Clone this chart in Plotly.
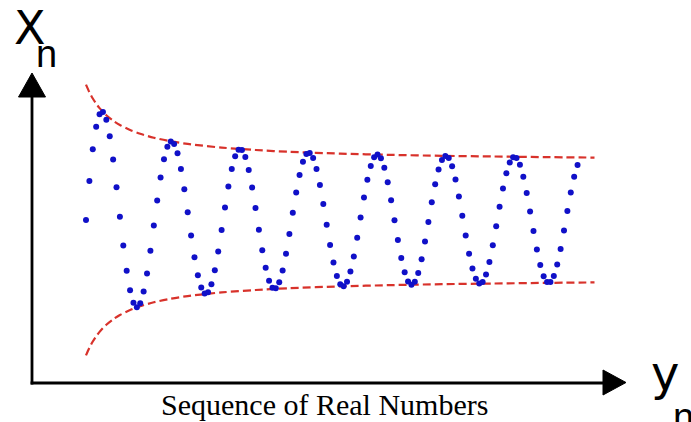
import plotly.graph_objects as go

# ---------------- data ----------------
# term index n of the sequence
n_index = list(range(146))
# sequence values x_n (oscillating, converging band)
x_values = [
    0.0, 39.1, 70.7, 93.3, 105.8, 108.0, 100.2, 83.8, 60.5, 32.8,
    3.2, -25.4, -50.7, -70.3, -82.8, -87.2, -83.2, -71.6, -53.5, -30.8,
    -5.6, 19.5, 42.4, 60.8, 73.2, 78.4, 76.1, 66.7, 51.0, 30.7,
    7.8, -15.6, -37.3, -55.2, -67.6, -73.5, -72.3, -64.3, -50.2, -31.5,
    -9.9, 12.5, 33.5, 51.1, 63.7, 70.2, 69.9, 63.0, 50.1, 32.5,
    11.9, -9.7, -30.3, -47.8, -60.8, -67.8, -68.3, -62.3, -50.4, -33.7,
    -13.9, 7.2, 27.5, 45.1, 58.3, 65.9, 67.1, 62.0, 50.9, 35.0,
    15.9, -4.8, -24.9, -42.5, -56.1, -64.2, -66.2, -61.8, -51.6, -36.4,
    -17.8, 2.4, 22.4, 40.2, 54.1, 62.7, 65.4, 61.8, 52.3, 37.8,
    19.7, -0.2, -20.0, -37.9, -52.2, -61.4, -64.7, -61.8, -53.0, -39.2,
    -21.6, -2.0, 17.7, 35.8, 50.4, 60.1, 64.1, 61.9, 53.8, 40.6,
    23.5, 4.2, -15.5, -33.7, -48.6, -58.8, -63.4, -62.0, -54.5, -41.9,
    -25.3, -6.3, 13.3, 31.6, 46.8, 57.6, 62.8, 62.0, 55.3, 43.3,
    27.1, 8.4, -11.1, -29.5, -45.1, -56.3, -62.1, -62.0, -56.0, -44.6,
    -28.9, -10.5, 8.9, 27.4, 43.3, 55.0,
]
# envelope (bounds) of the sequence
env_n = [0, 1, 2, 3, 4, 6, 8, 10, 13, 16, 20, 25, 30, 40, 50, 60, 75, 90, 105, 120, 135, 150]
env_upper = [135.4, 127.8, 121.5, 116.3, 111.9, 104.7, 99.3, 95.0, 90.0, 86.2, 82.3,
             78.7, 76.1, 72.4, 70.0, 68.2, 66.4, 65.1, 64.2, 63.5, 62.9, 62.4]
env_lower = [-v for v in env_upper]

caption = "Sequence of Real Numbers"
y_label = "X"
y_sub = "n"
x_label = "y"
x_sub = "n"

# ---------------- figure ----------------
W, H = 691, 422


def X(px):
    return px / W


def Y(py):
    return 1 - py / H


fig = go.Figure()

red = "#D8322B"
for env in (env_upper, env_lower):
    fig.add_trace(go.Scatter(x=env_n, y=env, mode="lines",
                             line=dict(color=red, width=2.2, dash="8px,4px", shape="spline", smoothing=0.8),
                             hoverinfo="skip", showlegend=False))
fig.add_trace(go.Scatter(x=n_index, y=x_values, mode="markers",
                         marker=dict(color="#1010C8", size=6, line=dict(width=0)),
                         showlegend=False))

shapes = [
    dict(type="line", xref="paper", yref="paper", x0=X(32), x1=X(32), y0=Y(95), y1=Y(384.5),
         line=dict(color="black", width=2.8)),
    dict(type="line", xref="paper", yref="paper", x0=X(30.6), x1=X(605), y0=Y(383), y1=Y(383),
         line=dict(color="black", width=2.8)),
    dict(type="path", xref="paper", yref="paper",
         path=f"M {X(32)},{Y(73)} L {X(18.5)},{Y(97)} L {X(45.5)},{Y(97)} Z",
         fillcolor="black", line=dict(color="black", width=1)),
    dict(type="path", xref="paper", yref="paper",
         path=f"M {X(626)},{Y(382.5)} L {X(603)},{Y(370)} L {X(603)},{Y(395)} Z",
         fillcolor="black", line=dict(color="black", width=1)),
]

annotations = [
    dict(text=y_label, x=X(30), y=Y(28), xref="paper", yref="paper", showarrow=False,
         xanchor="center", yanchor="middle", font=dict(family="DejaVu Sans", size=46, color="black")),
    dict(text=y_sub, x=X(46), y=Y(54), xref="paper", yref="paper", showarrow=False,
         xanchor="center", yanchor="middle", font=dict(family="Liberation Sans", size=38, color="black")),
    dict(text=x_label, x=X(665), y=Y(373), xref="paper", yref="paper", showarrow=False,
         xanchor="center", yanchor="middle", font=dict(family="DejaVu Sans", size=48, color="black")),
    dict(text=x_sub, x=X(683), y=Y(417), xref="paper", yref="paper", showarrow=False,
         xanchor="center", yanchor="middle", font=dict(family="Liberation Sans", size=38, color="black")),
    dict(text=caption, x=X(324), y=Y(404), xref="paper", yref="paper", showarrow=False,
         xanchor="center", yanchor="middle", font=dict(family="Liberation Serif", size=30, color="black")),
]

fig.update_layout(
    width=W, height=H, autosize=False,
    margin=dict(l=0, r=0, t=0, b=0),
    paper_bgcolor="white", plot_bgcolor="white",
    xaxis=dict(range=[(0 - 86) / 3.39, (W - 86) / 3.39], visible=False, fixedrange=True),
    yaxis=dict(range=[220 - H, 220], visible=False, fixedrange=True),
    shapes=shapes, annotations=annotations,
    showlegend=False,
)

fig.write_html("out.html", config={"displayModeBar": False},
               post_script="document.body.style.margin='0';document.body.style.overflow='hidden';")
